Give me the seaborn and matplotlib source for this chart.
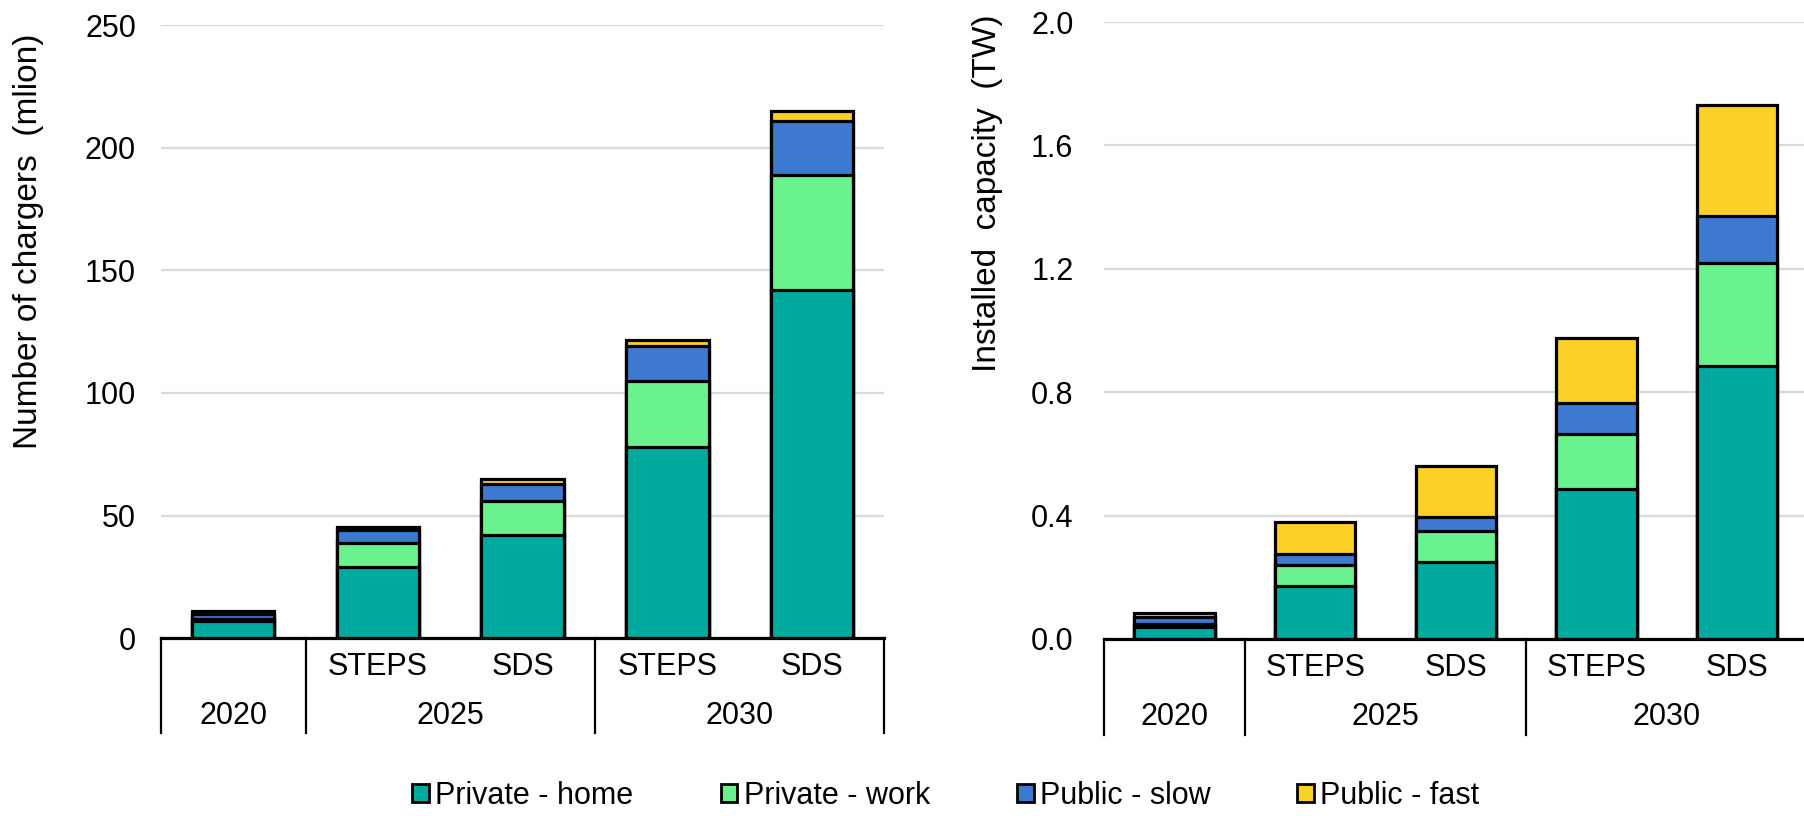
import matplotlib
matplotlib.use("Agg")
import matplotlib.pyplot as plt
from matplotlib.patches import Patch
import matplotlib.transforms as mtransforms
import seaborn as sns
import pandas as pd

categories = ["2020", "2025 STEPS", "2025 SDS", "2030 STEPS", "2030 SDS"]
scenario_labels = ["", "STEPS", "SDS", "STEPS", "SDS"]
year_labels = ["2020", "2025", "2030"]
year_centers = [0, 1.5, 3.5]
separators = [-0.5, 0.5, 2.5, 4.5]

series_names = ["Private - home", "Private - work", "Public - slow", "Public - fast"]
series_colors = ["#00AA9E", "#69F28E", "#3D78D1", "#FCD125"]

# number of chargers (million)
chargers_home = [7, 29, 42, 78, 142]
chargers_work = [1, 10, 14, 27, 47]
chargers_slow = [2, 5, 7, 14, 22]
chargers_fast = [1, 1.5, 2, 2.5, 4]

# installed capacity (TW)
capacity_home = [0.04, 0.17, 0.25, 0.485, 0.885]
capacity_work = [0.01, 0.07, 0.10, 0.18, 0.335]
capacity_slow = [0.02, 0.035, 0.045, 0.10, 0.15]
capacity_fast = [0.015, 0.105, 0.165, 0.21, 0.36]

plt.rcParams["font.family"] = ["Liberation Sans", "DejaVu Sans"]

fig = plt.figure(figsize=(18.04, 8.16), dpi=100)
ax1 = fig.add_axes([0.0892, 0.218, 0.401, 0.751])
ax2 = fig.add_axes([0.612, 0.217, 0.390, 0.756])


def stacked(ax, layers, ylim, yticks, fmt, ylabel, label_x, label_y, pad):
    df = pd.DataFrame({"cat": categories})
    cum = [0] * len(categories)
    tops = []
    for layer in layers:
        cum = [a + b for a, b in zip(cum, layer)]
        tops.append(cum)
    # draw from the top layer down so lower layers cover the upper ones
    for top, color in reversed(list(zip(tops, series_colors))):
        df["v"] = top
        sns.barplot(data=df, x="cat", y="v", order=categories, color=color,
                    saturation=1, width=0.57, edgecolor="black", linewidth=2.3,
                    errorbar=None, ax=ax, zorder=3)
    ax.set_xlim(-0.5, 4.5)
    ax.set_ylim(*ylim)
    ax.set_yticks(yticks)
    ax.set_yticklabels([fmt.format(t) for t in yticks])
    ax.tick_params(axis="y", length=0, labelsize=22, pad=pad)
    ax.set_xticks([])
    ax.set_xlabel("")
    ax.set_ylabel(ylabel, fontsize=24, labelpad=0)
    ax.yaxis.set_label_coords(label_x, label_y)
    ax.yaxis.label.set_va("center")
    ax.grid(axis="y", color="#d9d9d9", linewidth=1.6, zorder=0)
    ax.set_axisbelow(True)
    for s in ["top", "right", "left"]:
        ax.spines[s].set_visible(False)
    ax.spines["bottom"].set_linewidth(2.3)
    ax.spines["bottom"].set_zorder(5)

    trans = mtransforms.blended_transform_factory(ax.transData, ax.transAxes)
    for x, lab in enumerate(scenario_labels):
        if lab:
            ax.text(x, -0.047, lab, transform=trans, ha="center", va="center", fontsize=22)
    for x, lab in zip(year_centers, year_labels):
        ax.text(x, -0.127, lab, transform=trans, ha="center", va="center", fontsize=22)
    for x in separators:
        ax.plot([x, x], [0, -0.155], transform=trans, color="black",
                linewidth=1.6, clip_on=False)


stacked(ax1, [chargers_home, chargers_work, chargers_slow, chargers_fast],
        (0, 250), [0, 50, 100, 150, 200, 250], "{:.0f}",
        "Number of chargers  (mlion)", -0.183, 0.648, 18)
stacked(ax2, [capacity_home, capacity_work, capacity_slow, capacity_fast],
        (0, 2.0), [0, 0.4, 0.8, 1.2, 1.6, 2.0], "{:.1f}",
        "Installed  capacity  (TW)", -0.166, 0.723, 22)

handles = [Patch(facecolor=c, edgecolor="black", linewidth=2) for c in series_colors]
fig.legend(handles, series_names, loc="center", bbox_to_anchor=(946 / 1804, 1 - 796 / 816),
           ncol=4, frameon=False, fontsize=22, handlelength=0.55, handleheight=0.55,
           handletextpad=0.2, columnspacing=2.85)

fig.savefig("out.png", dpi=100)
